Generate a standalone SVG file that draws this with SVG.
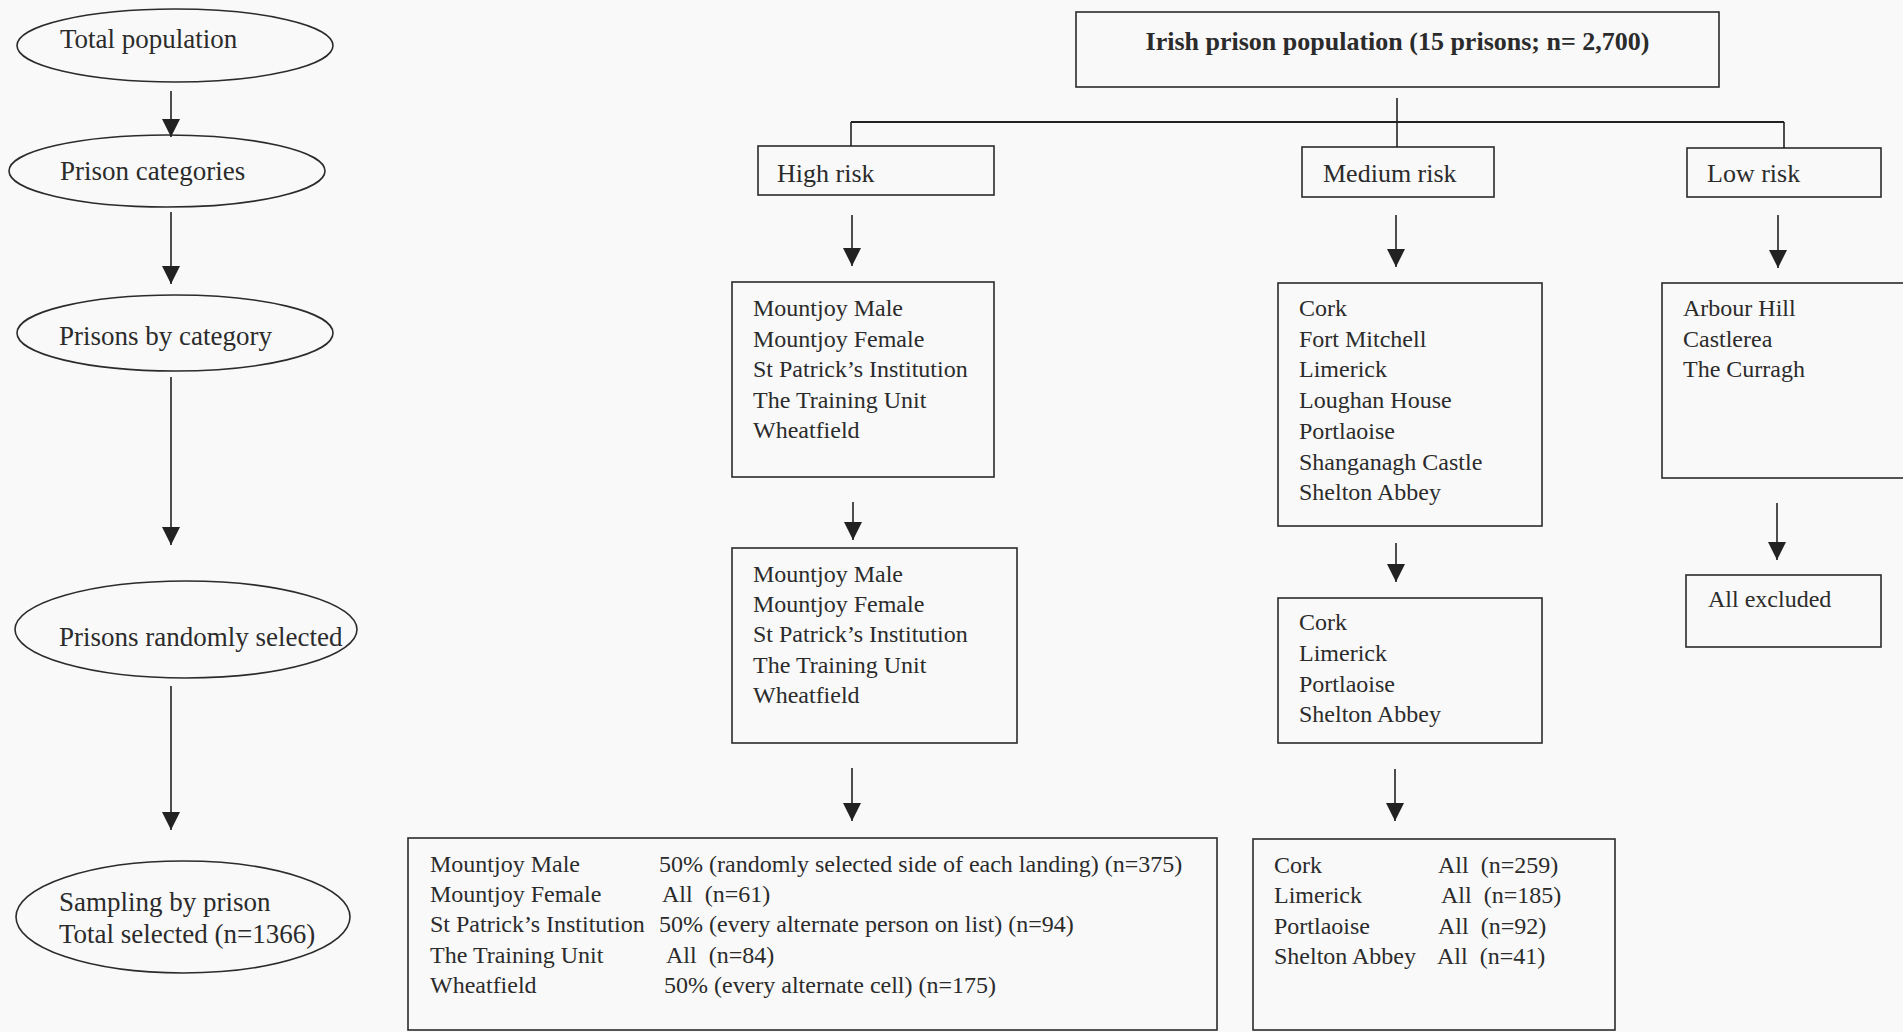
<svg xmlns="http://www.w3.org/2000/svg" width="1903" height="1032" viewBox="0 0 1903 1032">
<defs>
<marker id="ah" markerUnits="userSpaceOnUse" markerWidth="20" markerHeight="20" viewBox="0 -10 19 20" refX="18" refY="0" orient="auto">
<path d="M0,-9 L18,0 L0,9 z" fill="#222"/>
</marker>
</defs>
<style>
.bg{fill:#f9f9f9}
.sh{fill:none;stroke:#2b2b2b;stroke-width:1.6}
.t{font-family:"Liberation Serif","Times New Roman",serif;fill:#2b2b2b}
.e{font-size:27px}
.c{font-size:26px}
.l{font-size:24px}
.p{white-space:pre}
.b{font-size:26px;font-weight:bold}
.cn{fill:none;stroke:#222;stroke-width:1.6}
.ar{fill:none;stroke:#222;stroke-width:1.6;marker-end:url(#ah)}
</style>
<rect class="bg" x="0" y="0" width="1903" height="1032"/>

<g id="total-population">
<ellipse class="sh" cx="175" cy="45.5" rx="158" ry="36.5"/>
<text class="t e" x="60" y="48">Total population</text>
</g>
<g id="prison-categories">
<ellipse class="sh" cx="167" cy="171" rx="158" ry="36"/>
<text class="t e" x="60" y="180">Prison categories</text>
</g>
<g id="prisons-by-category">
<ellipse class="sh" cx="175" cy="333" rx="158" ry="38"/>
<text class="t e" x="59" y="345">Prisons by category</text>
</g>
<g id="prisons-randomly-selected">
<ellipse class="sh" cx="186" cy="629.5" rx="171" ry="48.5"/>
<text class="t e" x="59" y="646">Prisons randomly selected</text>
</g>
<g id="sampling-by-prison">
<ellipse class="sh" cx="183" cy="917" rx="167" ry="56"/>
<text class="t e" x="59" y="911">Sampling by prison</text>
<text class="t e" x="59" y="943">Total selected (n=1366)</text>
</g>

<g id="irish-prison-population">
<rect class="sh" x="1076" y="12" width="643" height="75"/>
<text class="t b" x="1397.5" y="50" text-anchor="middle">Irish prison population (15 prisons; n= 2,700)</text>
</g>
<g id="high-risk">
<rect class="sh" x="758" y="146" width="236" height="49"/>
<text class="t c" x="777" y="182">High risk</text>
</g>
<g id="medium-risk">
<rect class="sh" x="1302" y="147" width="192" height="50"/>
<text class="t c" x="1323" y="182">Medium risk</text>
</g>
<g id="low-risk">
<rect class="sh" x="1687" y="148" width="194" height="49"/>
<text class="t c" x="1707" y="182">Low risk</text>
</g>

<g id="high-risk-prisons">
<rect class="sh" x="732" y="282" width="262" height="195"/>
<text class="t l" x="753" y="316">Mountjoy Male</text>
<text class="t l" x="753" y="347">Mountjoy Female</text>
<text class="t l" x="753" y="377">St Patrick’s Institution</text>
<text class="t l" x="753" y="408">The Training Unit</text>
<text class="t l" x="753" y="438">Wheatfield</text>
</g>
<g id="high-risk-selected">
<rect class="sh" x="732" y="548" width="285" height="195"/>
<text class="t l" x="753" y="582">Mountjoy Male</text>
<text class="t l" x="753" y="612">Mountjoy Female</text>
<text class="t l" x="753" y="642">St Patrick’s Institution</text>
<text class="t l" x="753" y="673">The Training Unit</text>
<text class="t l" x="753" y="703">Wheatfield</text>
</g>
<g id="high-risk-sampling">
<rect class="sh" x="408" y="838" width="809" height="192"/>
<text class="t l" x="430" y="872">Mountjoy Male</text>
<text class="t l" x="430" y="902">Mountjoy Female</text>
<text class="t l" x="430" y="932">St Patrick’s Institution</text>
<text class="t l" x="430" y="963">The Training Unit</text>
<text class="t l" x="430" y="993">Wheatfield</text>
<text class="t l" x="659" y="872">50% (randomly selected side of each landing) (n=375)</text>
<text class="t l p" x="662" y="902">All  (n=61)</text>
<text class="t l" x="659" y="932">50% (every alternate person on list) (n=94)</text>
<text class="t l p" x="666" y="963">All  (n=84)</text>
<text class="t l" x="664" y="993">50% (every alternate cell) (n=175)</text>
</g>

<g id="medium-risk-prisons">
<rect class="sh" x="1278" y="283" width="264" height="243"/>
<text class="t l" x="1299" y="316">Cork</text>
<text class="t l" x="1299" y="347">Fort Mitchell</text>
<text class="t l" x="1299" y="377">Limerick</text>
<text class="t l" x="1299" y="408">Loughan House</text>
<text class="t l" x="1299" y="439">Portlaoise</text>
<text class="t l" x="1299" y="470">Shanganagh Castle</text>
<text class="t l" x="1299" y="500">Shelton Abbey</text>
</g>
<g id="medium-risk-selected">
<rect class="sh" x="1278" y="598" width="264" height="145"/>
<text class="t l" x="1299" y="630">Cork</text>
<text class="t l" x="1299" y="661">Limerick</text>
<text class="t l" x="1299" y="692">Portlaoise</text>
<text class="t l" x="1299" y="722">Shelton Abbey</text>
</g>
<g id="medium-risk-sampling">
<rect class="sh" x="1253" y="839" width="362" height="191"/>
<text class="t l" x="1274" y="873">Cork</text>
<text class="t l" x="1274" y="903">Limerick</text>
<text class="t l" x="1274" y="934">Portlaoise</text>
<text class="t l" x="1274" y="964">Shelton Abbey</text>
<text class="t l p" x="1438" y="873">All  (n=259)</text>
<text class="t l p" x="1441" y="903">All  (n=185)</text>
<text class="t l p" x="1438" y="934">All  (n=92)</text>
<text class="t l p" x="1437" y="964">All  (n=41)</text>
</g>

<g id="low-risk-prisons">
<rect class="sh" x="1662" y="283" width="260" height="195"/>
<text class="t l" x="1683" y="316">Arbour Hill</text>
<text class="t l" x="1683" y="347">Castlerea</text>
<text class="t l" x="1683" y="377">The Curragh</text>
</g>
<g id="all-excluded">
<rect class="sh" x="1686" y="575" width="195" height="72"/>
<text class="t l" x="1708" y="607">All excluded</text>
</g>

<g id="connectors">
<line class="ar" x1="171" y1="91" x2="171" y2="137"/>
<line class="ar" x1="171" y1="212" x2="171" y2="284"/>
<line class="ar" x1="171" y1="377" x2="171" y2="545"/>
<line class="ar" x1="171" y1="686" x2="171" y2="830"/>
<line class="cn" x1="1397" y1="98" x2="1397" y2="147"/>
<line class="cn" x1="851" y1="122" x2="1784" y2="122" style="stroke-width:2.2"/>
<line class="cn" x1="851" y1="122" x2="851" y2="146"/>
<line class="cn" x1="1784" y1="122" x2="1784" y2="148"/>
<line class="ar" x1="852" y1="215" x2="852" y2="266"/>
<line class="ar" x1="853" y1="502" x2="853" y2="540"/>
<line class="ar" x1="852" y1="768" x2="852" y2="821"/>
<line class="ar" x1="1396" y1="215" x2="1396" y2="267"/>
<line class="ar" x1="1396" y1="543" x2="1396" y2="582"/>
<line class="ar" x1="1395" y1="769" x2="1395" y2="821"/>
<line class="ar" x1="1778" y1="215" x2="1778" y2="268"/>
<line class="ar" x1="1777" y1="503" x2="1777" y2="560"/>
</g>
</svg>
